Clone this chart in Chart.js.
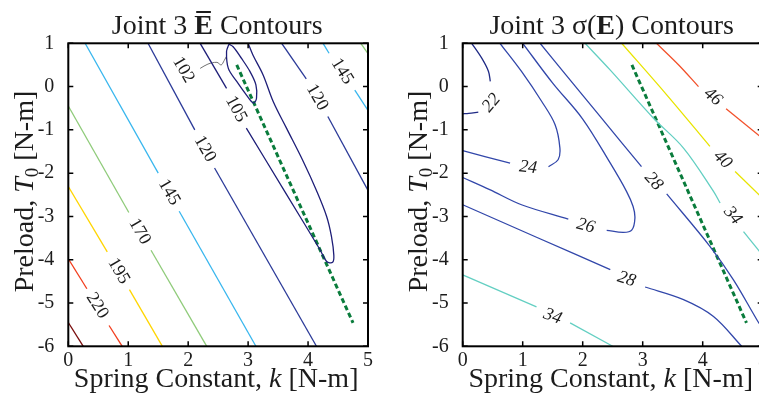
<!DOCTYPE html>
<html>
<head>
<meta charset="utf-8">
<script src="https://cdn.jsdelivr.net/npm/chart.js@4"></script>
<style>
  html, body { margin: 0; padding: 0; background: #fff; overflow: hidden; width: 759px; height: 396px; }
  canvas { position: absolute; top: 0; }
  #meanChart { left: 0; }
  #stdChart { left: 380px; }
</style>
</head>
<body>
<canvas id="meanChart" width="380" height="396"></canvas>
<canvas id="stdChart" width="400" height="396"></canvas>
<script>
// axis ticks
const kTicks = [0, 1, 2, 3, 4, 5];
const tTicks = [-6, -5, -4, -3, -2, -1, 0, 1];

// Joint 3 mean energy contours, [k, T0] points (pieces split at label gaps)
const e102 = [[2.68,0.98],[2.64,0.81],[2.67,0.42],[2.81,0.12],[2.97,-0.19],[3.09,-0.38],[3.14,-0.27],[3.13,0.04],[3.03,0.35],[2.89,0.65],[2.75,0.92],[2.68,0.98]];
const e102Leader = [[2.2,0.42],[2.33,0.52],[2.48,0.56],[2.55,0.5],[2.6,0.6],[2.64,0.7]];
const e105a = [[2.2,1],[2.64,-0.04]];
const e105b = [[2.97,-0.96],[3.61,-2.42],[4.2,-3.77],[4.31,-4.04],[4.41,-4.06],[4.43,-3.9],[4.39,-3.46],[4.31,-3.0],[4.14,-2.4],[3.92,-1.73],[3.64,-0.96],[3.42,-0.35],[3.25,0.27],[3.08,0.73],[3.0,1]];
const e120a = [[1.33,1],[2.11,-1.0]];
const e120b = [[2.44,-1.88],[4.14,-6]];
const e120c = [[3.56,1],[3.97,0.18]];
const e120d = [[4.33,-0.69],[5,-2.4]];
const e145a = [[0.28,1],[1.5,-2.0]];
const e145b = [[1.85,-2.88],[3.13,-6]];
const e145c = [[4.25,1],[4.35,0.77]];
const e145d = [[4.78,-0.08],[5,-0.55]];
const e170a = [[0,-0.45],[1.01,-2.91]];
const e170b = [[1.38,-3.78],[2.31,-6]];
const e170c = [[4.88,1],[5,0.76]];
const e195a = [[0,-2.31],[0.65,-3.82]];
const e195b = [[1.02,-4.69],[1.57,-6]];
const e220a = [[0,-3.98],[0.31,-4.67]];
const e220b = [[0.68,-5.52],[0.9,-6]];
const e245a = [[0,-5.45],[0.25,-6]];
const optLineMean = [[2.81,0.5],[4.75,-5.46]];

const meanLabels = [
  { text: '102', k: 1.92, t: 0.39, a: 60 },
  { text: '105', k: 2.80, t: -0.52, a: 62 },
  { text: '120', k: 2.28, t: -1.44, a: 60 },
  { text: '145', k: 1.68, t: -2.44, a: 60 },
  { text: '170', k: 1.19, t: -3.35, a: 60 },
  { text: '195', k: 0.84, t: -4.26, a: 60 },
  { text: '220', k: 0.48, t: -5.06, a: 58 },
  { text: '120', k: 4.15, t: -0.25, a: 60 },
  { text: '145', k: 4.57, t: 0.35, a: 58 }
];

// Joint 3 sigma(E) contours
const s22a = [[0.15,1],[0.32,0.65],[0.43,0.35],[0.46,0.12]];
const s22b = [[0.26,-0.59],[0.1,-0.62],[0,-0.63]];
const s24a = [[0.62,1],[0.98,0.35],[1.32,-0.35],[1.54,-0.88],[1.62,-1.42],[1.59,-1.69],[1.43,-1.85]];
const s24b = [[0.79,-1.77],[0.37,-1.62],[0,-1.48]];
const s26a = [[1.0,1],[1.5,0.08],[2.0,-0.75],[2.46,-1.77],[2.73,-2.42],[2.84,-2.77],[2.87,-3.04],[2.82,-3.31],[2.68,-3.37],[2.4,-3.32]];
const s26b = [[1.76,-3.06],[0.98,-2.73],[0.45,-2.38],[0,-2.1]];
const s28a = [[1.29,1],[1.72,0.27],[2.29,-0.69],[2.98,-1.85]];
const s28b = [[3.4,-2.48],[4.12,-3.69],[4.51,-4.46],[4.9,-5.38],[5,-5.6]];
const s28c = [[0,-2.73],[1.23,-3.48],[2.46,-4.23]];
const s28d = [[3.04,-4.63],[3.68,-4.92],[4.18,-5.31],[4.65,-6]];
const s34a = [[2.04,1],[2.46,0.38],[3.18,-0.73],[3.68,-1.42],[4.18,-2.42],[4.29,-2.69]];
const s34b = [[4.68,-3.35],[5,-3.9]];
const s34c = [[0,-4.35],[1.23,-5.09]];
const s34d = [[1.79,-5.46],[2.5,-6]];
const s40a = [[2.65,1],[3.4,-0.19],[4.12,-1.38]];
const s40b = [[4.54,-1.96],[5,-2.58]];
const s46a = [[3.23,1],[3.6,0.5],[3.93,0]];
const s46b = [[4.39,-0.51],[5,-1.2]];
const optLineStd = [[2.82,0.5],[4.73,-5.46]];

const stdLabels = [
  { text: '22', k: 0.48, t: -0.38, a: -50 },
  { text: '24', k: 1.09, t: -1.87, a: 6 },
  { text: '26', k: 2.05, t: -3.22, a: 15 },
  { text: '28', k: 3.18, t: -2.19, a: 48 },
  { text: '28', k: 2.73, t: -4.45, a: 18 },
  { text: '34', k: 4.50, t: -2.98, a: 50 },
  { text: '34', k: 1.50, t: -5.31, a: 20 },
  { text: '40', k: 4.33, t: -1.69, a: 45 },
  { text: '46', k: 4.17, t: -0.24, a: 40 }
];

const navy = '#1e1e78', blue = '#2b3a98', sky = '#38b6ee', lime = '#8fcb7a',
      gold = '#ffd500', red = '#f23c1c', maroon = '#7a0d0d',
      sBlue = '#3247aa', sNavy = '#1f2a85', teal = '#63cfc2', sYellow = '#e8e400', sRed = '#f2502a',
      dashGreen = '#0a7c3c';

const meanLines = [
  { pts: e245a, color: maroon },
  { pts: e220a, color: red }, { pts: e220b, color: red },
  { pts: e195a, color: gold }, { pts: e195b, color: gold },
  { pts: e170a, color: lime }, { pts: e170b, color: lime }, { pts: e170c, color: lime },
  { pts: e145a, color: sky }, { pts: e145b, color: sky }, { pts: e145c, color: sky }, { pts: e145d, color: sky },
  { pts: e120a, color: blue }, { pts: e120b, color: blue }, { pts: e120c, color: blue }, { pts: e120d, color: blue },
  { pts: e105a, color: navy }, { pts: e105b, color: navy },
  { pts: e102, color: navy },
  { pts: e102Leader, color: '#707070', width: 1 },
  { pts: optLineMean, color: dashGreen, width: 3, dash: [5, 3] }
];

const stdLines = [
  { pts: s22a, color: sNavy }, { pts: s22b, color: sNavy },
  { pts: s24a, color: sBlue }, { pts: s24b, color: sBlue },
  { pts: s26a, color: sBlue }, { pts: s26b, color: sBlue },
  { pts: s28a, color: sBlue }, { pts: s28b, color: sBlue }, { pts: s28c, color: sBlue }, { pts: s28d, color: sBlue },
  { pts: s34a, color: teal }, { pts: s34b, color: teal }, { pts: s34c, color: teal }, { pts: s34d, color: teal },
  { pts: s40a, color: sYellow }, { pts: s40b, color: sYellow },
  { pts: s46a, color: sRed }, { pts: s46b, color: sRed },
  { pts: optLineStd, color: dashGreen, width: 3, dash: [5, 3] }
];

const SERIF = '"Liberation Serif", "Times New Roman", serif';
const INK = '#1c1c1c';

function drawRich(ctx, parts, x, y) {
  let total = 0;
  parts.forEach(p => { ctx.font = p.font; p.w = ctx.measureText(p.text).width; total += p.w; });
  let cx = x - total / 2;
  parts.forEach(p => {
    ctx.font = p.font;
    ctx.fillText(p.text, cx, y + (p.dy || 0));
    if (p.bar) ctx.fillRect(cx + 2, y - p.bar, p.w - 4, 2);
    cx += p.w;
  });
}

function decorPlugin(titleParts, labels, labelFont, yTitleX) {
  return {
    id: 'decor',
    afterDatasetsDraw(chart) {
      const ctx = chart.ctx, xs = chart.scales.x, ys = chart.scales.y, a = chart.chartArea;
      ctx.save();
      ctx.fillStyle = INK;
      // contour labels
      ctx.font = labelFont;
      ctx.textAlign = 'center';
      ctx.textBaseline = 'middle';
      labels.forEach(l => {
        ctx.save();
        ctx.translate(xs.getPixelForValue(l.k), ys.getPixelForValue(l.t));
        ctx.rotate(l.a * Math.PI / 180);
        ctx.fillText(l.text, 0, 0);
        ctx.restore();
      });
      // box and inward ticks
      ctx.strokeStyle = '#000';
      ctx.lineWidth = 2;
      ctx.strokeRect(a.left, a.top, a.right - a.left, a.bottom - a.top);
      ctx.lineWidth = 1.5;
      ctx.beginPath();
      xs.ticks.forEach(t => {
        const px = xs.getPixelForValue(t.value);
        ctx.moveTo(px, a.bottom); ctx.lineTo(px, a.bottom - 5);
        ctx.moveTo(px, a.top); ctx.lineTo(px, a.top + 5);
      });
      ys.ticks.forEach(t => {
        const py = ys.getPixelForValue(t.value);
        ctx.moveTo(a.left, py); ctx.lineTo(a.left + 5, py);
        ctx.moveTo(a.right, py); ctx.lineTo(a.right - 5, py);
      });
      ctx.stroke();
      // titles
      ctx.textAlign = 'left';
      ctx.textBaseline = 'alphabetic';
      const cx = (a.left + a.right) / 2;
      drawRich(ctx, titleParts, cx - 1, 34);
      drawRich(ctx, [
        { text: 'Spring Constant, ', font: '28px ' + SERIF },
        { text: 'k', font: 'italic 28px ' + SERIF },
        { text: ' [N-m]', font: '28px ' + SERIF }
      ], cx - 2, 387);
      ctx.save();
      ctx.translate(yTitleX, 191.5);
      ctx.rotate(-Math.PI / 2);
      drawRich(ctx, [
        { text: 'Preload, ', font: '28px ' + SERIF },
        { text: 'T', font: 'italic 28px ' + SERIF },
        { text: '0', font: '19px ' + SERIF, dy: 5 },
        { text: ' [N-m]', font: '28px ' + SERIF }
      ], 0, 0);
      ctx.restore();
      ctx.restore();
    }
  };
}

function makeChart(id, lines, labels, labelFont, titleParts, yWidth, rightPad, yTitleX) {
  return new Chart(document.getElementById(id), {
    type: 'line',
    data: {
      datasets: lines.map(l => ({
        data: l.pts.map(p => ({ x: p[0], y: p[1] })),
        borderColor: l.color,
        borderWidth: l.width || 1.3,
        borderDash: l.dash || [],
        pointRadius: 0,
        fill: false,
        tension: l.pts.length > 2 ? 0.35 : 0
      }))
    },
    options: {
      responsive: false,
      animation: false,
      layout: { padding: { top: 43.3, right: rightPad, left: 0, bottom: 0 } },
      plugins: { legend: { display: false }, tooltip: { enabled: false } },
      scales: {
        x: {
          type: 'linear', min: 0, max: 5,
          afterBuildTicks: s => { s.ticks = kTicks.map(v => ({ value: v })); },
          grid: { display: false }, border: { display: false },
          ticks: { color: INK, padding: -4, maxRotation: 0, autoSkip: false,
                   font: { family: SERIF, size: 20, lineHeight: 1 } },
          afterFit: s => { s.height = 396 - 346.3; }
        },
        y: {
          type: 'linear', min: -6, max: 1,
          afterBuildTicks: s => { s.ticks = tTicks.map(v => ({ value: v })); },
          grid: { display: false }, border: { display: false },
          ticks: { color: INK, padding: 6, autoSkip: false,
                   font: { family: SERIF, size: 20, lineHeight: 1 } },
          afterFit: s => { s.width = yWidth; }
        }
      }
    },
    plugins: [decorPlugin(titleParts, labels, labelFont, yTitleX)]
  });
}

makeChart('meanChart', meanLines, meanLabels, '18px ' + SERIF, [
  { text: 'Joint 3 ', font: '28px ' + SERIF },
  { text: 'E', font: 'bold 28px ' + SERIF, bar: 23 },
  { text: ' Contours', font: '28px ' + SERIF }
], 68.3, 12, 33);

makeChart('stdChart', stdLines, stdLabels, 'italic 18px ' + SERIF, [
  { text: 'Joint 3 \u03c3(', font: '28px ' + SERIF },
  { text: 'E', font: 'bold 28px ' + SERIF },
  { text: ') Contours', font: '28px ' + SERIF }
], 82.7, 17.3, 47.4);
</script>
</body>
</html>
